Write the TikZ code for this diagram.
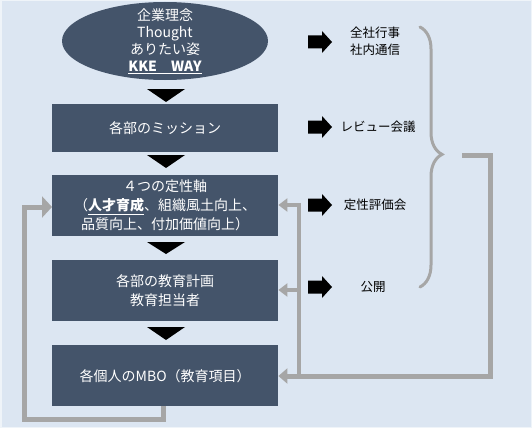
\documentclass[tikz,border=0pt]{standalone}
\usepackage{fontspec}
\setmainfont{Noto Sans CJK JP}
\usetikzlibrary{arrows.meta,decorations.pathreplacing}
\definecolor{bg}{HTML}{DCE6F2}
\definecolor{slate}{HTML}{44546A}
\definecolor{gry}{HTML}{A6A6A6}
\begin{document}
\begin{tikzpicture}[x=1pt,y=-1pt,
  box/.style={fill=slate,text=white,minimum width=226pt,inner sep=0pt,anchor=north west,
    font=\fontsize{14}{19}\selectfont,align=center},
  etext/.style={text=white,inner sep=0pt,font=\fontsize{14}{17}\selectfont,align=center},
  lbl/.style={text=black,inner sep=0pt,font=\fontsize{12.5}{17}\selectfont,align=center},
  bigloop/.style={draw=gry,line width=5pt},
  branch/.style={draw=gry,line width=4pt},
  blk/.pic={\fill[black] (0,-6.5) -- (14,-6.5) -- (14,-11) -- (24,0) -- (14,11) -- (14,6.5) -- (0,6.5) -- cycle;}
]
\useasboundingbox (0,0) rectangle (532,428);
\fill[bg,draw=white!55!bg,line width=1.5pt] (0.75,0.75) rectangle (531.25,427.25);

% ellipse
\fill[slate] (165,41) ellipse [x radius=103, y radius=39];
\node[etext] (e) at (165,41) {企業理念\\Thought\\ありたい姿\\\textbf{\underline{KKE　WAY}}};

% boxes
\node[box,minimum height=48pt] (m) at (52,104) {各部のミッション};
\node[box,minimum height=61pt] (q) at (52,175) {４つの定性軸\\（\textbf{\underline{人才育成}}、組織風土向上、\\品質向上、付加価値向上）};
\node[box,minimum height=61pt] (k) at (52,260) {各部の教育計画\\教育担当者};
\node[box,minimum height=61pt] (p) at (52,345) {各個人のMBO（教育項目）};

% down triangles
\fill[black] (147,89) -- (185,89) -- (166,102) -- cycle;
\fill[black] (147,155) -- (185,155) -- (166,168) -- cycle;
\fill[black] (147,242) -- (185,242) -- (166,254) -- cycle;
\fill[black] (147,327) -- (185,327) -- (166,340) -- cycle;

% left loop
\coordinate (lb) at (163,419);
\draw[bigloop,-{Triangle[length=10pt,width=21pt]}] (p.south -| lb) -- (lb) -- (24,419) -- (24,207) -- (q.west |- 0,207);

% right loop
\coordinate (bt) at (462,155);
\draw[bigloop,-{Triangle[length=9pt,width=15pt]}] (bt) -- (490,155) -- (490,376) -- (p.east |- 0,376);
\draw[branch,-{Triangle[length=9pt,width=13pt]}] (299,376) -- (299,205) -- (q.east |- 0,205);
\draw[branch,-{Triangle[length=9pt,width=13pt]}] (299,290) -- (k.east |- 0,290);

% brace
\draw[gry,line width=3pt,line cap=round,decorate,decoration={brace,amplitude=22pt,aspect=0.49}] (420,27) -- (420,287);

% black block arrows and labels
\pic at (308,42) {blk};
\pic at (308,127) {blk};
\pic at (308,205) {blk};
\pic at (308,287) {blk};
\node[lbl] (l1) at (375,41) {全社行事\\社内通信};
\node[lbl] (l2) at (378,127) {レビュー会議};
\node[lbl] (l3) at (375,205) {定性評価会};
\node[lbl] (l4) at (373,287) {公開};
\end{tikzpicture}
\end{document}
